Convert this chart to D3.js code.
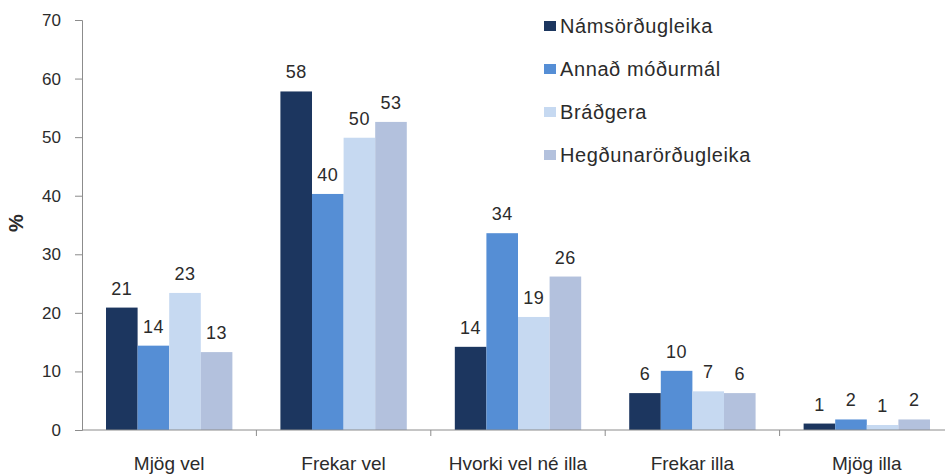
<!DOCTYPE html>
<html>
<head>
<meta charset="utf-8">
<script src="https://cdn.jsdelivr.net/npm/d3@7"></script>
<style>
  body { margin: 0; background: #fff; }
  text { font-family: "Liberation Sans", Arial, sans-serif; fill: #2b2b2b; }
</style>
</head>
<body>
<svg id="chart" width="945" height="475"></svg>
<script>
// flokkar á x-ás
const categories = ["Mjög vel", "Frekar vel", "Hvorki vel né illa", "Frekar illa", "Mjög illa"];
const seriesNames = ["Námsörðugleika", "Annað móðurmál", "Bráðgera", "Hegðunarörðugleika"];
const seriesColors = ["#1c365f", "#558ed5", "#c6d9f1", "#b3c1dd"];

// gildi (%) lesin af myndinni, ein röð fyrir hvern hóp
const namsordugleika = [20.9, 57.8, 14.2, 6.3, 1.1];
const annadModurmal = [14.4, 40.3, 33.6, 10.1, 1.8];
const bradgera = [23.4, 49.9, 19.3, 6.6, 0.85];
const hegdunarordugleika = [13.3, 52.6, 26.2, 6.3, 1.8];
const seriesValues = [namsordugleika, annadModurmal, bradgera, hegdunarordugleika];

const yTicks = [0, 10, 20, 30, 40, 50, 60, 70];

const svg = d3.select("#chart");
const plotLeft = 82, plotBottom = 430, plotTop = 20;
const step = 174.4;

const x0 = d3.scaleBand()
  .domain(categories)
  .range([plotLeft, plotLeft + step * categories.length])
  .padding(0);

const x1 = d3.scaleBand()
  .domain(seriesNames)
  .range([0, x0.bandwidth()])
  .paddingInner(0)
  .paddingOuter(0.76);

const y = d3.scaleLinear().domain([0, 70]).range([plotBottom, plotTop]);

// y-ás
const yAxis = svg.append("g")
  .attr("transform", `translate(${plotLeft},0)`)
  .call(d3.axisLeft(y).tickValues(yTicks).tickSize(7).tickPadding(14));
yAxis.select(".domain").attr("stroke", "#8c8c8c");
yAxis.selectAll(".tick line").attr("stroke", "#8c8c8c");
yAxis.selectAll(".tick text")
  .style("font-size", "17px")
  .style("font-family", "Liberation Sans, Arial, sans-serif")
  .attr("fill", "#595959");

svg.append("text")
  .attr("transform", "translate(23,223) rotate(-90)")
  .attr("text-anchor", "middle")
  .style("font-size", "20px")
  .style("font-weight", "bold")
  .text("%");

// súlur
const groups = svg.append("g").selectAll("g")
  .data(categories)
  .join("g")
  .attr("transform", (d) => `translate(${x0(d)},0)`);

const cells = groups.selectAll("g")
  .data((c, ci) => seriesNames.map((s, si) => ({ s, si, v: seriesValues[si][ci] })))
  .join("g");

cells.append("rect")
  .attr("x", (d) => x1(d.s))
  .attr("y", (d) => y(d.v))
  .attr("width", x1.bandwidth())
  .attr("height", (d) => plotBottom - y(d.v))
  .attr("fill", (d) => seriesColors[d.si]);

cells.append("text")
  .attr("x", (d) => x1(d.s) + x1.bandwidth() / 2)
  .attr("y", (d) => y(d.v) - 13)
  .attr("text-anchor", "middle")
  .style("font-size", "18px")
  .style("letter-spacing", "0.5px")
  .text((d) => Math.round(d.v));

// x-ás
svg.append("line")
  .attr("x1", plotLeft).attr("x2", 945)
  .attr("y1", plotBottom).attr("y2", plotBottom)
  .attr("stroke", "#8c8c8c");

svg.append("g").selectAll("line")
  .data(categories.slice(1))
  .join("line")
  .attr("x1", (d) => x0(d)).attr("x2", (d) => x0(d))
  .attr("y1", plotBottom).attr("y2", plotBottom + 6)
  .attr("stroke", "#8c8c8c");

svg.append("g").selectAll("text")
  .data(categories)
  .join("text")
  .attr("x", (d) => x0(d) + x0.bandwidth() / 2)
  .attr("y", 470)
  .attr("text-anchor", "middle")
  .style("font-size", "19px")
  .text((d) => d);

// skýringar
const legend = svg.append("g").selectAll("g")
  .data(seriesNames)
  .join("g")
  .attr("transform", (d, i) => `translate(544,${33 + i * 43})`);

legend.append("rect")
  .attr("x", 0).attr("y", -12)
  .attr("width", 12).attr("height", 10)
  .attr("fill", (d, i) => seriesColors[i]);

legend.append("text")
  .attr("x", 16)
  .attr("y", 0)
  .style("font-size", "20px")
  .style("letter-spacing", "0.6px")
  .text((d) => d);
</script>
</body>
</html>
